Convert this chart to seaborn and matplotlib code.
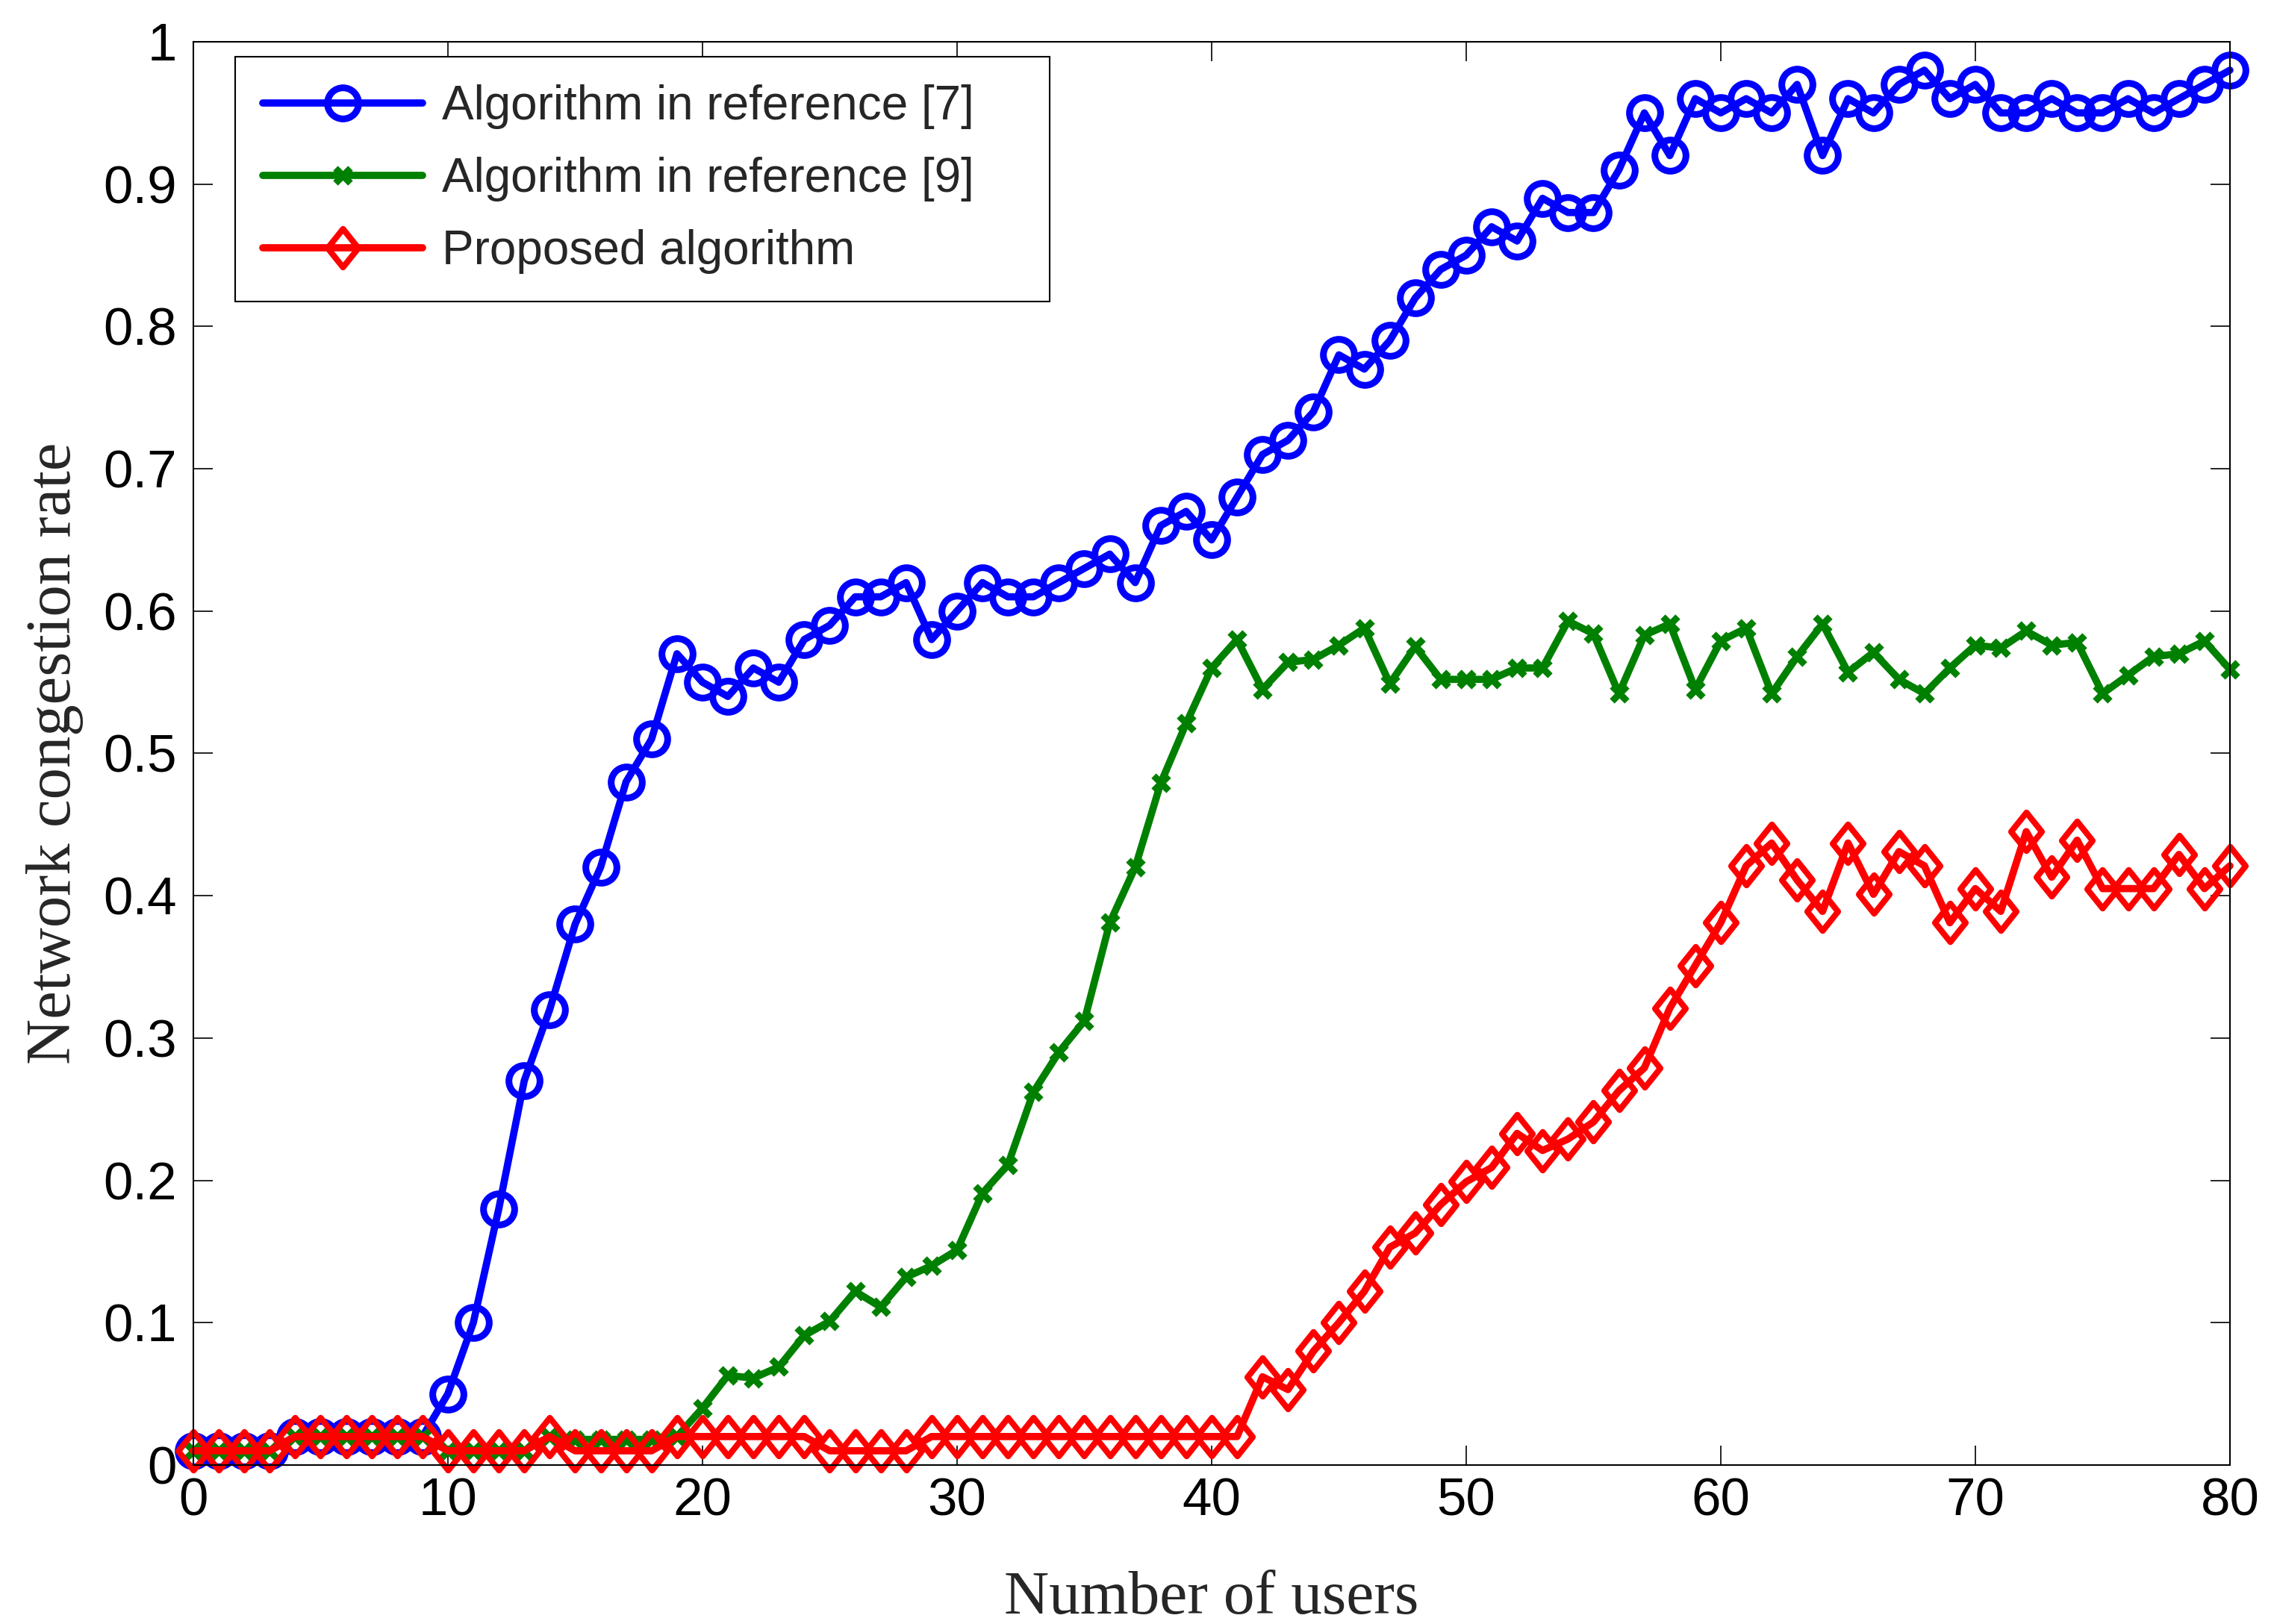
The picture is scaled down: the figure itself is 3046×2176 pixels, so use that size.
import numpy as np
import pandas as pd
import matplotlib
matplotlib.use("Agg")
import matplotlib.pyplot as plt
from matplotlib.path import Path
import seaborn as sns

users = list(range(0, 81))

ref7 = [0.01, 0.01, 0.01, 0.01, 0.02, 0.02, 0.02, 0.02, 0.02, 0.02,
        0.05, 0.10, 0.18, 0.27, 0.32, 0.38, 0.42, 0.48, 0.51, 0.57,
        0.55, 0.54, 0.56, 0.55, 0.58, 0.59, 0.61, 0.61, 0.62, 0.58,
        0.60, 0.62, 0.61, 0.61, 0.62, 0.63, 0.64, 0.62, 0.66, 0.67,
        0.65, 0.68, 0.71, 0.72, 0.74, 0.78, 0.77, 0.79, 0.82, 0.84,
        0.85, 0.87, 0.86, 0.89, 0.88, 0.88, 0.91, 0.95, 0.92, 0.96,
        0.95, 0.96, 0.95, 0.97, 0.92, 0.96, 0.95, 0.97, 0.98, 0.96,
        0.97, 0.95, 0.95, 0.96, 0.95, 0.95, 0.96, 0.95, 0.96, 0.97,
        0.98]

ref9 = [0.01, 0.01, 0.01, 0.01, 0.02, 0.02, 0.02, 0.02, 0.02, 0.02,
        0.01, 0.01, 0.01, 0.01, 0.02, 0.018, 0.018, 0.018, 0.018, 0.02,
        0.04, 0.063, 0.061, 0.069, 0.091, 0.101, 0.122, 0.111, 0.132, 0.140,
        0.151, 0.191, 0.211, 0.262, 0.290, 0.312, 0.381, 0.420, 0.479, 0.521,
        0.56, 0.58, 0.545, 0.564, 0.566, 0.576, 0.588, 0.549, 0.575, 0.552,
        0.552, 0.552, 0.56, 0.56, 0.593, 0.584, 0.542, 0.583, 0.591, 0.545,
        0.579, 0.588, 0.542, 0.568, 0.591, 0.557, 0.571, 0.552, 0.542, 0.56,
        0.576, 0.574, 0.586, 0.576, 0.578, 0.542, 0.555, 0.568, 0.57, 0.579,
        0.559]

proposed = [0.01, 0.01, 0.01, 0.01, 0.02, 0.02, 0.02, 0.02, 0.02, 0.02,
            0.01, 0.01, 0.01, 0.01, 0.02, 0.01, 0.01, 0.01, 0.01, 0.02,
            0.02, 0.02, 0.02, 0.02, 0.02, 0.01, 0.01, 0.01, 0.01, 0.02,
            0.02, 0.02, 0.02, 0.02, 0.02, 0.02, 0.02, 0.02, 0.02, 0.02,
            0.02, 0.02, 0.062, 0.053, 0.080, 0.100, 0.122, 0.153, 0.163, 0.183,
            0.199, 0.209, 0.233, 0.221, 0.229, 0.241, 0.263, 0.279, 0.321, 0.351,
            0.381, 0.421, 0.437, 0.411, 0.389, 0.437, 0.401, 0.431, 0.421, 0.381,
            0.405, 0.389, 0.445, 0.413, 0.439, 0.405, 0.405, 0.405, 0.429, 0.405,
            0.421]

labels = ["Algorithm in reference [7]", "Algorithm in reference [9]", "Proposed algorithm"]
xticks = [0, 10, 20, 30, 40, 50, 60, 70, 80]
yticks = [0, 0.1, 0.2, 0.3, 0.4, 0.5, 0.6, 0.7, 0.8, 0.9, 1]
ytick_labels = ["0", "0.1", "0.2", "0.3", "0.4", "0.5", "0.6", "0.7", "0.8", "0.9", "1"]

sns.set_style("ticks")
plt.rcParams["font.family"] = ["Liberation Sans", "DejaVu Sans"]

fig = plt.figure(figsize=(30.46, 21.76), dpi=100)
ax = fig.add_axes([0.0850, 0.0979, 0.9806 - 0.0850, 0.9743 - 0.0979])

diamond = Path([(0, 1), (0.8, 0), (0, -1), (-0.8, 0), (0, 1)],
               [Path.MOVETO, Path.LINETO, Path.LINETO, Path.LINETO, Path.CLOSEPOLY])

lw = 7.0
sns.lineplot(x=users, y=ref7, ax=ax, color=(0, 0, 1), linewidth=lw, label=labels[0],
             marker="o", markersize=30, markerfacecolor="none",
             markeredgecolor=(0, 0, 1), markeredgewidth=6.5, errorbar=None,
             clip_on=False)
sns.lineplot(x=users, y=ref9, ax=ax, color=(0, 0.5, 0), linewidth=lw, label=labels[1],
             marker="x", markersize=15, markerfacecolor="none",
             markeredgecolor=(0, 0.5, 0), markeredgewidth=6.5, errorbar=None,
             clip_on=False)
sns.lineplot(x=users, y=proposed, ax=ax, color=(1, 0, 0), linewidth=lw, label=labels[2],
             marker=diamond, markersize=37, markerfacecolor="none",
             markeredgecolor=(1, 0, 0), markeredgewidth=5.8, errorbar=None,
             clip_on=False)

ax.set_xlim(0, 80)
ax.set_ylim(0, 1)
ax.set_xticks(xticks)
ax.set_xticklabels([str(t) for t in xticks])
ax.set_yticks(yticks)
ax.set_yticklabels(ytick_labels)
ax.tick_params(axis="both", which="both", direction="in", length=19, width=1.2,
               top=True, right=True, labelsize=51, colors="black")
ax.tick_params(axis="x", pad=12)
ax.tick_params(axis="y", pad=16)
for s in ax.spines.values():
    s.set_visible(True)
    s.set_linewidth(1.5)
    s.set_color("black")
ax.grid(False)

ax.set_xlabel("Number of users", fontsize=60, family=["Liberation Serif", "DejaVu Serif"])
ax.set_ylabel("Network congestion rate", fontsize=61, family=["Liberation Serif", "DejaVu Serif"])
ax.xaxis.set_label_coords(0.5, -0.0742)
ax.yaxis.set_label_coords(-0.054, 0.5)

leg = ax.legend(loc="upper left", bbox_to_anchor=(0.0207, 0.8233, 0.3998, 0.1662),
                mode="expand", borderaxespad=0,
                fontsize=46, frameon=True, fancybox=False, edgecolor="black",
                handlelength=3.35, handletextpad=0.4, borderpad=0.58,
                labelspacing=0.58, numpoints=1)
leg.get_frame().set_linewidth(1.5)
leg.get_frame().set_alpha(1)

fig.savefig("out.png", dpi=100, facecolor="white")
